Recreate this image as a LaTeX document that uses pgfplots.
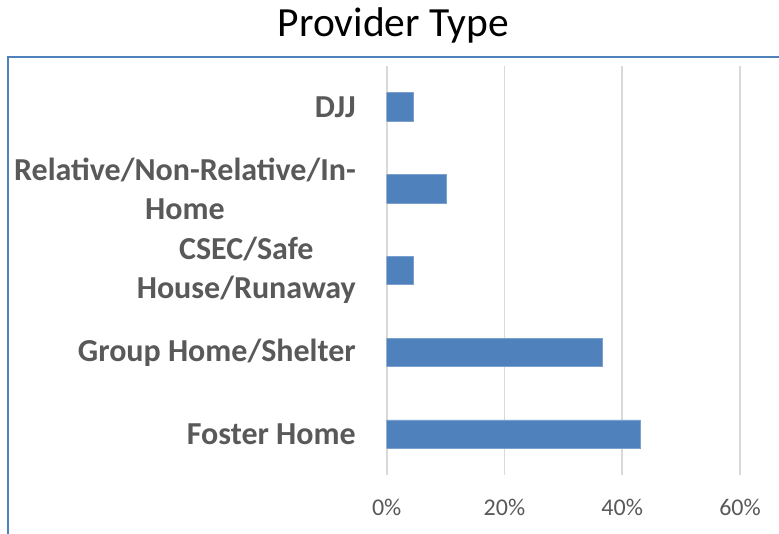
\documentclass[border=0pt]{standalone}
\usepackage{pgfplots}
\pgfplotsset{compat=1.18}
\usepackage{fontspec}
\setmainfont{Carlito}
\definecolor{barblue}{HTML}{4F81BD}
\definecolor{frameblue}{HTML}{4F81BD}
\definecolor{txtgray}{HTML}{595959}
\definecolor{gridgray}{HTML}{D9D9D9}
\begin{document}
\begin{tikzpicture}
\begin{axis}[
  at={(386.7pt,58pt)}, anchor=south west,
  scale only axis, width=353.3pt, height=409pt,
  xbar, bar width=28.5pt,
  xmin=0, xmax=60, ymin=-0.5, ymax=4.5,
  xtick={0,20,40,60},
  xticklabel={\pgfmathprintnumber{\tick}\%},
  /pgf/number format/assume math mode=true,
  ytick={0,1,2,3,4},
  yticklabels={Foster Home, Group Home/Shelter, {CSEC/Safe\\House/Runaway}, {Relative/Non-Relative/In-\\Home}, DJJ},
  yticklabel style={font=\fontsize{32}{38.5}\selectfont\bfseries, text=txtgray, align=center, anchor=east, inner sep=0pt, xshift=-30.7pt},
  xticklabel style={font=\fontsize{24}{28}\selectfont, text=txtgray, anchor=base, inner sep=0pt, yshift=-40pt},
  axis line style={draw=none},
  major tick length=0pt,
  xmajorgrids,
  grid style={color=gridgray, line width=1.8pt},
]
\addplot[fill=barblue, draw=barblue!75!white, line width=0.6pt] coordinates {
  (43.0,0) (36.6,1) (4.5,2) (10.1,3) (4.5,4)
};
\end{axis}
\draw[frameblue, line width=2pt, line join=miter] (8pt,-10pt) -- (8pt,476pt) -- (800pt,476pt);
\node[anchor=base, font=\fontsize{41.5}{50}\selectfont, text=black, inner sep=0pt] at (393.3pt,496.5pt) {Provider Type};
\pgfresetboundingbox
\path[use as bounding box] (0pt,0pt) rectangle (779pt,533pt);
\end{tikzpicture}
\end{document}
